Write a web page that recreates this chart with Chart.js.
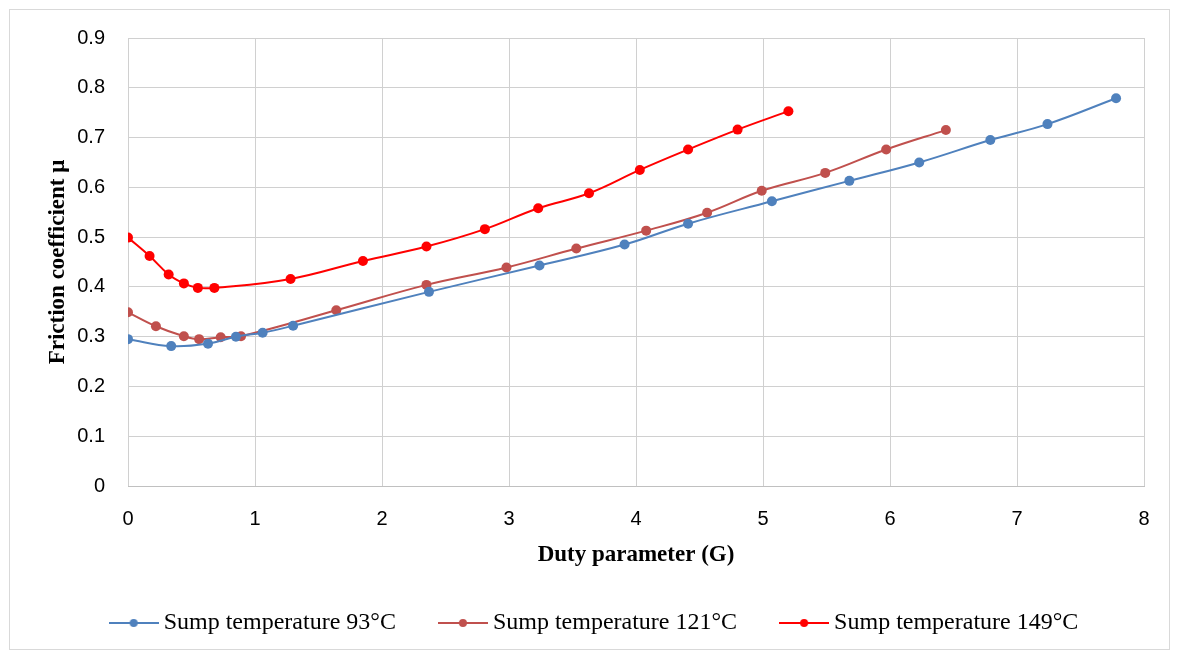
<!DOCTYPE html>
<html>
<head>
<meta charset="utf-8">
<script src="https://cdn.jsdelivr.net/npm/chart.js@4/dist/chart.umd.min.js"></script>
<style>
  html, body { margin: 0; padding: 0; background: #fff; }
  #wrap { position: relative; width: 1179px; height: 655px; }
</style>
</head>
<body>
<div id="wrap"><canvas id="chart" width="1179" height="655"></canvas></div>
<script>
// duty parameter G (x) and friction coefficient mu (y)
const g93 = [0, 0.34, 0.63, 0.85, 1.06, 1.30, 2.37, 3.24, 3.91, 4.41, 5.07, 5.68, 6.23, 6.79, 7.24, 7.78];
const mu93 = [0.295, 0.281, 0.286, 0.300, 0.308, 0.322, 0.390, 0.443, 0.485, 0.527, 0.572, 0.613, 0.650, 0.695, 0.727, 0.779];

const g121 = [0, 0.22, 0.44, 0.56, 0.73, 0.89, 1.64, 2.35, 2.98, 3.53, 4.08, 4.56, 4.99, 5.49, 5.97, 6.44];
const mu121 = [0.349, 0.321, 0.301, 0.295, 0.299, 0.301, 0.353, 0.404, 0.439, 0.477, 0.513, 0.549, 0.593, 0.629, 0.676, 0.715];

const g149 = [0, 0.17, 0.32, 0.44, 0.55, 0.68, 1.28, 1.85, 2.35, 2.81, 3.23, 3.63, 4.03, 4.41, 4.80, 5.20];
const mu149 = [0.499, 0.462, 0.425, 0.407, 0.398, 0.398, 0.416, 0.452, 0.481, 0.516, 0.558, 0.588, 0.635, 0.676, 0.716, 0.753];

const seriesLabels = ["Sump temperature 93°C", "Sump temperature 121°C", "Sump temperature 149°C"];
const seriesColors = ["#4F81BD", "#C0504D", "#FF0000"];

const xTicks = [0, 1, 2, 3, 4, 5, 6, 7, 8];
const yTicks = [0, 0.1, 0.2, 0.3, 0.4, 0.5, 0.6, 0.7, 0.8, 0.9];

function toPoints(xs, ys) {
    return xs.map((x, i) => ({ x: x, y: ys[i] }));
}

// little line+dot swatch for the legend
function legendSwatch(color) {
    const c = document.createElement("canvas");
    c.width = 50;
    c.height = 12;
    const ctx = c.getContext("2d");
    ctx.strokeStyle = color;
    ctx.lineWidth = 2;
    ctx.beginPath();
    ctx.moveTo(0, 6);
    ctx.lineTo(50, 6);
    ctx.stroke();
    ctx.fillStyle = color;
    ctx.beginPath();
    ctx.arc(25, 6, 4, 0, Math.PI * 2);
    ctx.fill();
    return c;
}

const frame = {
    id: "frame",
    beforeDraw(chart) {
        const ctx = chart.ctx;
        ctx.save();
        ctx.fillStyle = "#fff";
        ctx.fillRect(0, 0, chart.width, chart.height);
        ctx.strokeStyle = "#d9d9d9";
        ctx.lineWidth = 1;
        ctx.strokeRect(9.5, 9.5, 1160, 640);
        ctx.restore();
    },
};

const series = [[g93, mu93], [g121, mu121], [g149, mu149]];

const cfg = {
    type: "scatter",
    data: {
        datasets: series.map((s, i) => ({
            label: seriesLabels[i],
            data: toPoints(s[0], s[1]),
            showLine: true,
            tension: 0.4,
            borderColor: seriesColors[i],
            backgroundColor: seriesColors[i],
            borderWidth: 2,
            pointRadius: 5,
            pointHoverRadius: 5,
            pointBorderWidth: 0,
        })),
    },
    options: {
        responsive: false,
        animation: false,
        layout: { padding: { top: 38, right: 0, left: 15, bottom: 10 } },
        scales: {
            x: {
                type: "linear",
                min: 0,
                max: 8,
                afterBuildTicks: (scale) => {
                    scale.ticks = xTicks.map((v) => ({ value: v }));
                },
                afterFit: (scale) => {
                    scale.height = 76;
                },
                ticks: {
                    color: "#000",
                    padding: 21,
                    font: { family: "'Liberation Sans', Arial, sans-serif", size: 20 },
                },
                grid: { color: "#d0d0d0", drawTicks: false, lineWidth: 1 },
                border: { color: "#c0c0c0" },
                title: {
                    display: true,
                    text: "Duty parameter (G)",
                    color: "#000",
                    padding: { top: 0, bottom: -7 },
                    font: { family: "'Liberation Serif', 'Times New Roman', serif", size: 23, weight: "bold" },
                },
            },
            y: {
                type: "linear",
                min: 0,
                max: 0.9,
                afterBuildTicks: (scale) => {
                    scale.ticks = yTicks.map((v) => ({ value: v }));
                },
                afterFit: (scale) => {
                    scale.width = 113;
                },
                ticks: {
                    color: "#000",
                    padding: 23,
                    callback: (v) => (v === 0 ? "0" : v.toFixed(1)),
                    font: { family: "'Liberation Sans', Arial, sans-serif", size: 20 },
                },
                grid: { color: "#d0d0d0", drawTicks: false, lineWidth: 1 },
                border: { display: false },
                title: {
                    display: true,
                    text: "Friction coefficient μ",
                    color: "#000",
                    padding: { top: 29, bottom: 0 },
                    font: { family: "'Liberation Serif', 'Times New Roman', serif", size: 23, weight: "bold" },
                },
            },
            // empty right-hand gutter so the legend can span the full width
            gutter: {
                type: "linear",
                position: "right",
                display: true,
                afterFit: (scale) => {
                    scale.width = 35;
                },
                ticks: { display: false },
                grid: { display: false },
                border: { display: false },
            },
        },
        plugins: {
            legend: {
                position: "bottom",
                labels: {
                    usePointStyle: true,
                    pointStyleWidth: 36,
                    padding: 49,
                    color: "#000",
                    font: { family: "'Liberation Serif', 'Times New Roman', serif", size: 24 },
                    generateLabels: (chart) =>
                        chart.data.datasets.map((ds, i) => ({
                            text: ds.label,
                            pointStyle: legendSwatch(seriesColors[i]),
                            fillStyle: seriesColors[i],
                            strokeStyle: seriesColors[i],
                            lineWidth: 0,
                            hidden: false,
                            datasetIndex: i,
                            fontColor: "#000",
                        })),
                },
            },
            tooltip: { enabled: false },
        },
    },
    plugins: [frame],
};

new Chart(document.getElementById("chart"), cfg);
</script>
</body>
</html>
